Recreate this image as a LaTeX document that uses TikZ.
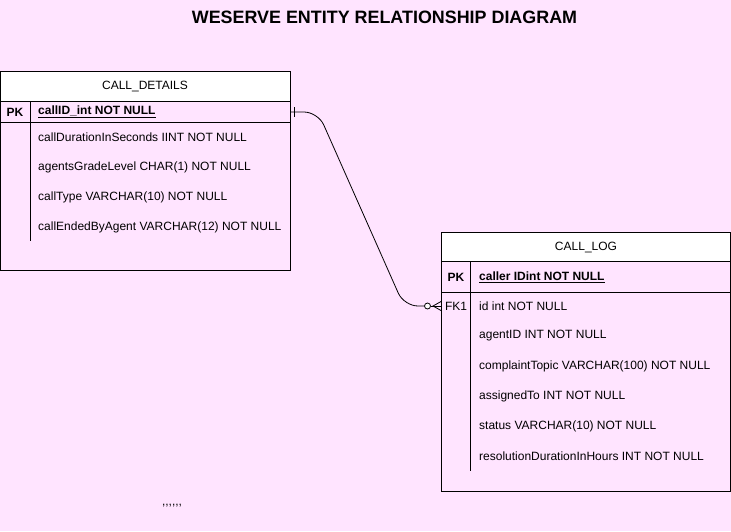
\documentclass[tikz,border=0pt]{standalone}
\usepackage{fontspec}
\setmainfont{Liberation Sans}
\definecolor{bgpink}{RGB}{255,228,255}
\tikzset{
  tbl/.style={draw=black, line width=0.8pt},
  hdr/.style={draw=black, fill=white, line width=0.8pt},
  sep/.style={draw=black, line width=0.6pt},
  ttl/.style={font=\fontsize{12}{14}\selectfont, inner sep=0pt, anchor=center},
  fld/.style={font=\fontsize{12}{14}\selectfont, inner sep=0pt, anchor=west},
  pkl/.style={font=\bfseries\fontsize{12}{14}\selectfont, inner sep=0pt, anchor=center},
  rel/.style={draw=black, line width=0.8pt, rounded corners=14pt},
}
\begin{document}
\begin{tikzpicture}[x=1pt,y=-1pt]
\fill[bgpink] (0,0) rectangle (731,531);
\useasboundingbox (0,0) rectangle (731,531);

\node[font=\bfseries\fontsize{17.9}{21}\selectfont, inner sep=0pt] (title) at (384.5,17.5) {WESERVE ENTITY RELATIONSHIP DIAGRAM};

% CALL_DETAILS
\draw[tbl] (0.5,71.5) rectangle (290.5,270.5);
\draw[hdr] (0.5,71.5) rectangle (290.5,101.5);
\node[ttl] (cdname) at (145,86) {CALL\_DETAILS};
\draw[sep] (0.5,122) -- (290.5,122);
\draw[sep] (30,101.5) -- (30,241);
\node[pkl] (cdpk) at (15,112) {PK};
\node[fld, font=\bfseries\fontsize{12}{14}\selectfont] (cdpkf) at (38,112) {\underline{callID\_int NOT NULL}};
\node[fld] (cd1) at (38,137) {callDurationInSeconds IINT NOT NULL};
\node[fld] (cd2) at (38,167) {agentsGradeLevel CHAR(1) NOT NULL};
\node[fld] (cd3) at (38,197) {callType VARCHAR(10) NOT NULL};
\node[fld] (cd4) at (38,227) {callEndedByAgent VARCHAR(12) NOT NULL};
\coordinate (cdport) at (290.5,112);

% CALL_LOG
\draw[tbl] (441,232) rectangle (730.5,491.5);
\draw[hdr] (441,232) rectangle (730.5,261);
\node[ttl] (clname) at (586,247) {CALL\_LOG};
\draw[sep] (441,292) -- (730.5,292);
\draw[sep] (470,261) -- (470,471);
\node[pkl] (clpk) at (456,277) {PK};
\node[fld, font=\bfseries\fontsize{12}{14}\selectfont] (clpkf) at (479,277) {\underline{caller IDint NOT NULL}};
\node[ttl] (clfk) at (456,306) {FK1};
\node[fld] (cl1) at (479,306) {id int NOT NULL};
\node[fld] (cl2) at (479,336) {agentID INT NOT NULL};
\node[fld] (cl3) at (479,366) {complaintTopic VARCHAR(100) NOT NULL};
\node[fld] (cl4) at (479,396) {assignedTo INT NOT NULL};
\node[fld] (cl5) at (479,426) {status VARCHAR(10) NOT NULL};
\node[fld] (cl6) at (479,456) {resolutionDurationInHours INT NOT NULL};
\coordinate (clport) at (441,306);

% relationship
\coordinate (b1) at (318,112);
\coordinate (b2) at (404,306);
\draw[rel] (cdport) -- (b1) -- (b2) -- (424.5,306);
\draw[black, line width=0.8pt] (294.5,107) -- (294.5,117);
\draw[black, line width=0.8pt, fill=white] (427.5,306) circle (3);
\draw[black, line width=0.8pt] (430.5,306) -- (clport);
\draw[black, line width=0.8pt] (clport |- 0,301.5) -- (433,306) -- (clport |- 0,310.5);

\node[font=\fontsize{12}{14}\selectfont, inner sep=0pt] (dots) at (172,506) {,{},{},{},{},{},};
\end{tikzpicture}
\end{document}
